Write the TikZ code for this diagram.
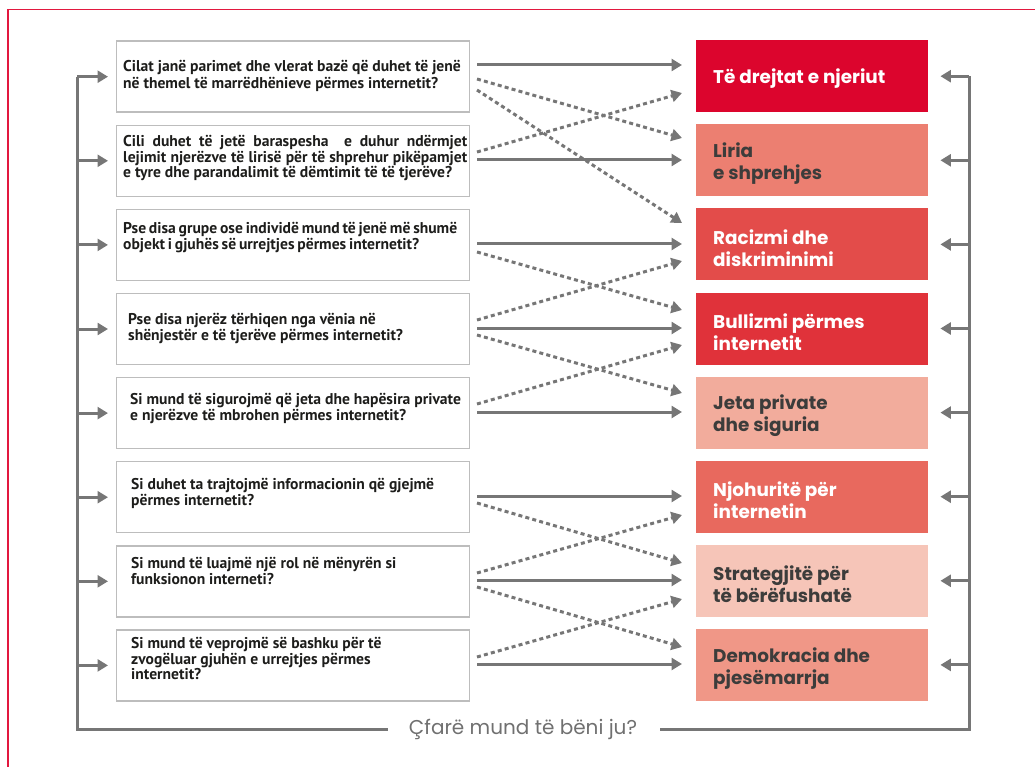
\documentclass[tikz,border=0pt]{standalone}
\usepackage{fontspec}
\setmainfont{PT Sans}
\newfontfamily\popfont{Poppins}
\usetikzlibrary{arrows.meta}
\definecolor{framered}{HTML}{E2183F}
\definecolor{conngray}{HTML}{767676}
\definecolor{boxgray}{HTML}{BDBDBD}
\definecolor{qtext}{HTML}{1D1D1B}
\definecolor{dtext}{HTML}{3C3C3B}
\definecolor{rA}{HTML}{DC052D}
\definecolor{rB}{HTML}{EC7F71}
\definecolor{rC}{HTML}{E34C4A}
\definecolor{rD}{HTML}{E0323A}
\definecolor{rE}{HTML}{F2AC9C}
\definecolor{rF}{HTML}{E8695E}
\definecolor{rG}{HTML}{F6C5B8}
\definecolor{rH}{HTML}{F09787}
\begin{document}
\begin{tikzpicture}[x=1pt,y=-1pt,
  qbox/.style={draw=boxgray,line width=1.4pt,minimum width=353pt,minimum height=71pt,anchor=north west,inner sep=0pt},
  qtxt/.style={anchor=base west,inner sep=0pt,text=qtext,font=\fontsize{15.6}{16.4}\selectfont\bfseries},
  tbox/.style={minimum width=232pt,minimum height=72pt,anchor=north west,inner sep=0pt},
  ttxt/.style={anchor=west,inner sep=0pt,align=left,font=\popfont\bfseries\fontsize{18.4}{22}\selectfont},
  frame/.style={draw=conngray,line width=3pt},
  conn/.style={draw=conngray,line width=3pt,-{Triangle[length=10.5pt,width=12pt]}},
  dconn/.style={conn,dash pattern=on 4pt off 3.2pt}]
\useasboundingbox (0,0) rectangle (1035,767);
\draw[framered,line width=1.2pt] (8,767) -- (8,9.5) -- (1035,9.5);

% left question boxes
\node[qbox] (q1) at (116,40.5) {};
\node[qbox] (q2) at (116,124.6) {};
\node[qbox] (q3) at (116,208.7) {};
\node[qbox] (q4) at (116,292.8) {};
\node[qbox] (q5) at (116,376.9) {};
\node[qbox] (q6) at (116,461) {};
\node[qbox] (q7) at (116,545.1) {};
\node[qbox] (q8) at (116,629.2) {};

\node[qtxt] (q1t) at (123,72) {\parbox[t]{350pt}{\raggedright Cilat janë parimet dhe vlerat bazë që duhet të jenë\\ në themel të marrëdhënieve përmes internetit?}};
\node[qtxt] (q2t) at (123,147) {\parbox[t]{344pt}{\fontsize{15.6}{15.5}\selectfont Cili duhet të jetë baraspesha \ e duhur ndërmjet\linebreak lejimit njerëzve të lirisë për të shprehur pikëpamjet\linebreak e tyre dhe parandalimit të dëmtimit të të tjerëve?}};
\node[qtxt] (q3t) at (123,233.5) {\parbox[t]{350pt}{\raggedright\spaceskip=0.18em Pse disa grupe ose individë mund të jenë më shumë\\ objekt i gjuhës së urrejtjes përmes internetit?}};
\node[qtxt] (q4t) at (128,324.5) {\parbox[t]{340pt}{\raggedright Pse disa njerëz tërhiqen nga vënia në\\ shënjestër e të tjerëve përmes internetit?}};
\node[qtxt] (q5t) at (130,404) {\parbox[t]{340pt}{\raggedright Si mund të sigurojmë që jeta dhe hapësira private\\ e njerëzve të mbrohen përmes internetit?}};
\node[qtxt] (q6t) at (131,489.5) {\parbox[t]{335pt}{\raggedright Si duhet ta trajtojmë informacionin që gjejmë\\ përmes internetit?}};
\node[qtxt] (q7t) at (131,568.5) {\parbox[t]{335pt}{\raggedright Si mund të luajmë një rol në mënyrën si\\ funksionon interneti?}};
\node[qtxt] (q8t) at (131,648.5) {\parbox[t]{335pt}{\raggedright\fontsize{15.6}{15.5}\selectfont Si mund të veprojmë së bashku për të\\ zvogëluar gjuhën e urrejtjes përmes\\ internetit?}};

% right topic boxes
\node[tbox,fill=rA] (r1) at (696,40) {};
\node[tbox,fill=rB] (r2) at (696,124.1) {};
\node[tbox,fill=rC] (r3) at (696,208.2) {};
\node[tbox,fill=rD] (r4) at (696,292.3) {};
\node[tbox,fill=rE] (r5) at (696,376.4) {};
\node[tbox,fill=rF] (r6) at (696,460.5) {};
\node[tbox,fill=rG] (r7) at (696,544.6) {};
\node[tbox,fill=rH] (r8) at (696,628.7) {};

\node[ttxt,text=white] (r1t) at ([xshift=17pt,yshift=-2.5pt]r1.west) {Të drejtat e njeriut};
\node[ttxt,text=dtext] (r2t) at ([xshift=17pt,yshift=-3.5pt]r2.west) {Liria\\e shprehjes};
\node[ttxt,text=white] (r3t) at ([xshift=17pt,yshift=-3.5pt]r3.west) {Racizmi dhe\\diskriminimi};
\node[ttxt,text=white] (r4t) at ([xshift=17pt,yshift=-3.5pt]r4.west) {Bullizmi përmes\\internetit};
\node[ttxt,text=dtext] (r5t) at ([xshift=17pt,yshift=-3.5pt]r5.west) {Jeta private\\dhe siguria};
\node[ttxt,text=white] (r6t) at ([xshift=17pt,yshift=-3.5pt]r6.west) {Njohuritë për\\internetin};
\node[ttxt,text=dtext] (r7t) at ([xshift=17pt,yshift=-3.5pt]r7.west) {Strategjitë për\\të bërëfushatë};
\node[ttxt,text=dtext] (r8t) at ([xshift=17pt,yshift=-3.5pt]r8.west) {Demokracia dhe\\pjesëmarrja};

% outer feedback frame
\coordinate (lv) at (77,0);
\coordinate (rv) at (969,0);
\coordinate (lbot) at (77,729);
\coordinate (rbot) at (969,729);
\coordinate (gapL) at (388,729);
\coordinate (gapR) at (660,729);
\node[inner sep=0pt,text=conngray!95!black,font=\popfont\fontsize{20}{22}\selectfont] (bq) at (523,729) {Çfarë mund të bëni ju?};
\draw[frame] (lv |- q1.west) -- (lbot) -- (gapL);
\draw[frame] (gapR) -- (rbot) -- (rv |- r1.east);

\foreach \i in {1,...,8}{
  \draw[conn] (lv |- q\i.west) -- ([xshift=-8pt]q\i.west);
  \draw[conn] (rv |- r\i.east) -- ([xshift=12pt]r\i.east);
}

% solid links
\foreach \i/\y in {1/65,2/160,3/244,4/328,5/412,6/496,7/580,8/664}{
  \coordinate (sa\i) at (477,\y);
  \coordinate (sb\i) at (682,\y);
  \draw[conn] (sa\i) -- (sb\i);
}

% dotted links
\foreach \n/\ya/\yb in {1/79/138,2/90/223,3/152/93,4/252/310,5/320/261,6/335/393,7/404/345,8/503/563,9/573/515,10/587/647,11/657/599}{
  \coordinate (da\n) at (477,\ya);
  \coordinate (db\n) at (682,\yb);
  \draw[dconn] (da\n) -- (db\n);
}
\end{tikzpicture}
\end{document}
